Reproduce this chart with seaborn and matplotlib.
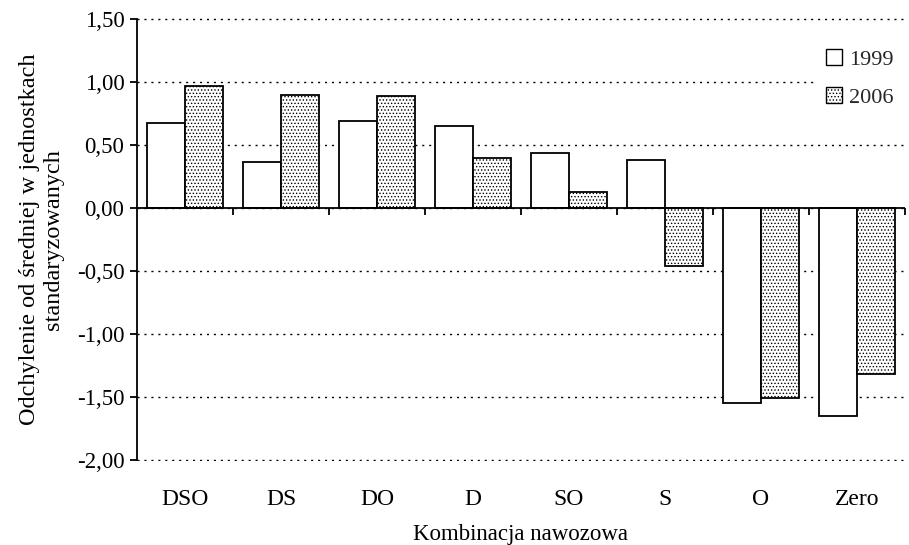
import pandas as pd
import matplotlib
matplotlib.use("Agg")
import matplotlib.pyplot as plt
import seaborn as sns
from matplotlib.ticker import FuncFormatter, FixedLocator, NullFormatter

sns.set_theme(style="white")
plt.rcParams["font.family"] = ["Liberation Serif", "DejaVu Serif"]
plt.rcParams["hatch.linewidth"] = 0.6
plt.rcParams["hatch.color"] = "#555555"

# ------------------------------------------------------------------
# Data
# ------------------------------------------------------------------
combos = ["DSO", "DS", "DO", "D", "SO", "S", "O", "Zero"]
years = ["1999", "2006"]
vals_1999 = [0.68, 0.37, 0.69, 0.65, 0.44, 0.38, -1.55, -1.65]
vals_2006 = [0.97, 0.90, 0.89, 0.40, 0.13, -0.46, -1.51, -1.32]

df = pd.DataFrame({
    "combo": combos * 2,
    "year": [years[0]] * len(combos) + [years[1]] * len(combos),
    "value": vals_1999 + vals_2006,
})

# ------------------------------------------------------------------
# Plot
# ------------------------------------------------------------------
fig = plt.figure(figsize=(9.09, 5.45), dpi=100)
ax = fig.add_axes([0.1507, 0.1535, 0.8449, 0.8135])

sns.barplot(data=df, x="combo", y="value", hue="year", order=combos,
            hue_order=years, palette=["white", "white"], width=0.8,
            edgecolor="black", linewidth=1.3, saturation=1, ax=ax,
            legend=True)

for bar in ax.containers[1]:
    bar.set_hatch(".....")

ymin, ymax = -2.01, 1.51
ax.set_ylim(ymin, ymax)
ax.set_xlim(-0.5, len(combos) - 0.5)

# dotted horizontal gridlines
ax.set_axisbelow(True)
ax.yaxis.grid(True, linestyle=(0, (1.5, 3.5)), color="black", linewidth=1.0)
ax.xaxis.grid(False)

# spines
for s in ["top", "right", "bottom"]:
    ax.spines[s].set_visible(False)
ax.spines["left"].set_color("black")
ax.spines["left"].set_linewidth(1.3)
ax.spines["left"].set_bounds(-2.0, 1.5)

# y ticks
ax.set_yticks([1.5, 1.0, 0.5, 0.0, -0.5, -1.0, -1.5, -2.0])
ax.yaxis.set_major_formatter(FuncFormatter(lambda v, p: f"{v:.2f}".replace(".", ",")))
ax.tick_params(axis="y", direction="out", length=5, width=1.3, color="black",
               labelsize=16.5, labelcolor="black", left=True, pad=4)

# x labels at bottom, no tick marks
ax.tick_params(axis="x", length=0, labelsize=17, labelcolor="black", pad=20)

# zero line with category boundary ticks
ax.axhline(0, color="black", linewidth=1.3, zorder=1)
zero_frac = (0 - ymin) / (ymax - ymin)
sec = ax.secondary_xaxis(zero_frac)
for s in sec.spines.values():
    s.set_visible(False)
sec.xaxis.set_ticks_position("bottom")
sec.xaxis.set_major_locator(FixedLocator([i + 0.5 for i in range(len(combos))]))
sec.xaxis.set_major_formatter(NullFormatter())
sec.tick_params(axis="x", direction="out", length=5, width=1.3, color="black")

ax.set_xlabel("Kombinacja nawozowa", fontsize=16.5, color="black", labelpad=10)
ax.set_ylabel("Odchylenie od średniej w jednostkach\nstandaryzowanych",
              fontsize=17.5, color="black", labelpad=9, linespacing=1.2)

leg = ax.legend(loc="upper right", bbox_to_anchor=(1.014, 0.98), frameon=True,
                fontsize=16, handlelength=0.75, handleheight=0.75,
                handletextpad=0.3, labelspacing=0.75, borderpad=0.5)
leg.get_frame().set_edgecolor("none")
leg.get_frame().set_facecolor("white")
leg.get_frame().set_alpha(1)
leg.set_zorder(5)
for h in leg.legend_handles:
    h.set_edgecolor("black")
    h.set_linewidth(1.0)
leg.legend_handles[1].set_hatch(".....")

fig.savefig("out.png", dpi=100)
